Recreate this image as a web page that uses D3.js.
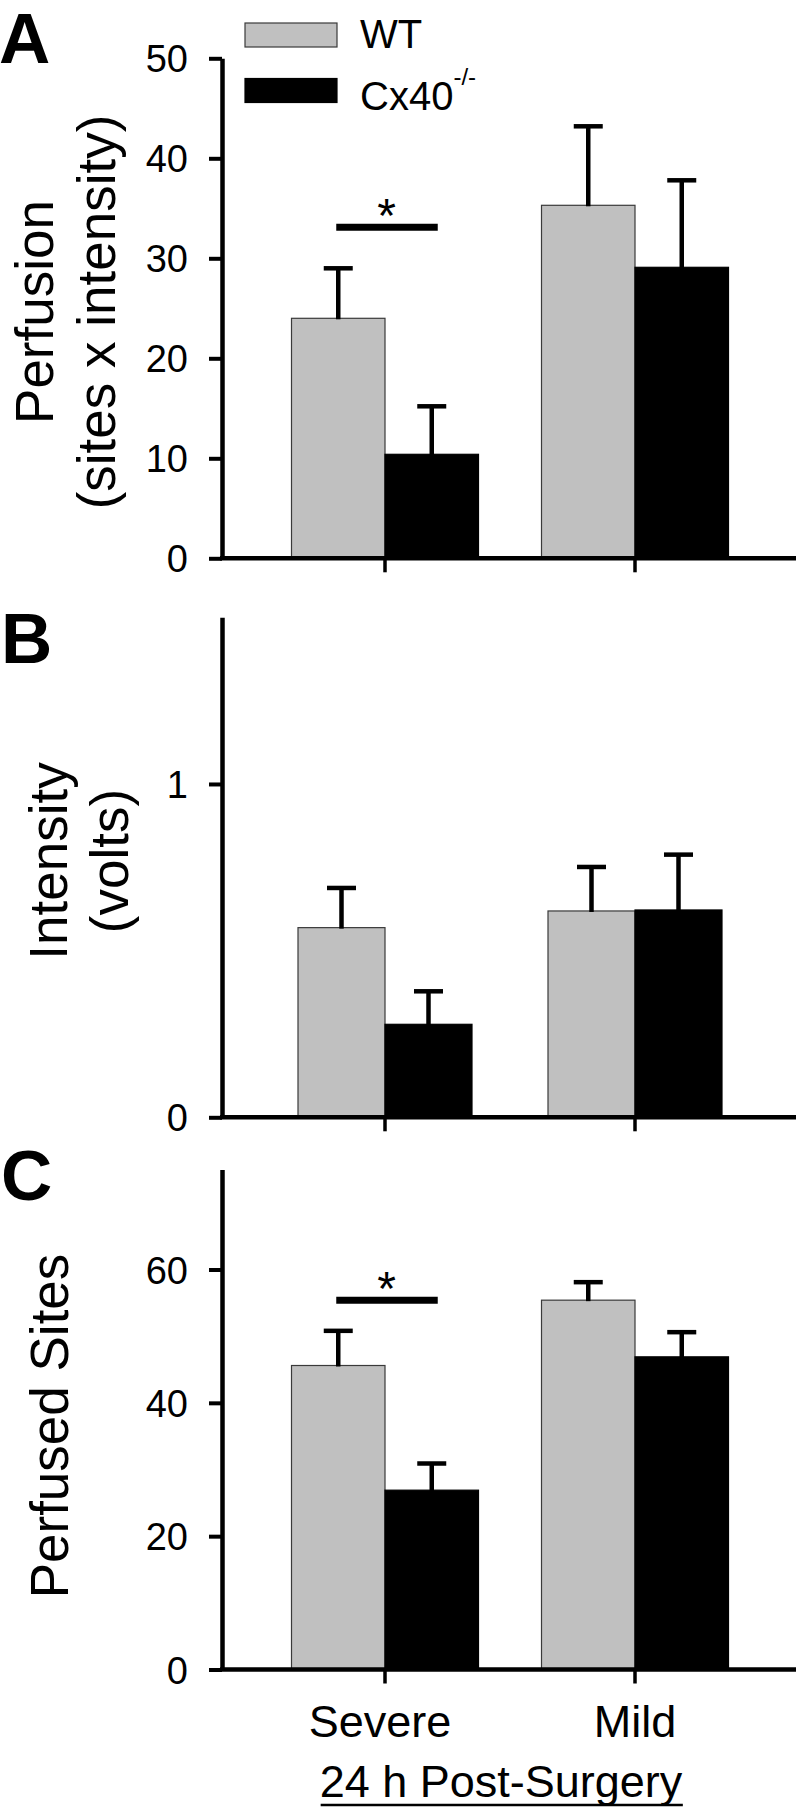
<!DOCTYPE html>
<html>
<head>
<meta charset="utf-8">
<script src="https://cdn.jsdelivr.net/npm/d3@7"></script>
<style>
  html, body { margin: 0; padding: 0; background: #fff; }
  svg { display: block; }
  text { font-family: "Liberation Sans", Arial, Helvetica, sans-serif; fill: #000; }
</style>
</head>
<body>
<svg id="chart" width="804" height="1812"></svg>
<script>
// ---------------- data ----------------
const categories = ["Severe", "Mild"];
const seriesNames = ["WT", "Cx40"];
const seriesColors = ["#c0c0c0", "#000000"];

// Panel A: Perfusion (sites x intensity)
const perfusionWT = [24.0, 35.3];
const perfusionWTErr = [5.0, 7.9];
const perfusionKO = [10.4, 29.1];
const perfusionKOErr = [4.8, 8.7];
const perfusionTicks = [0, 10, 20, 30, 40, 50];

// Panel B: Intensity (volts)
const intensityWT = [0.569, 0.619];
const intensityWTErr = [0.119, 0.132];
const intensityKO = [0.279, 0.622];
const intensityKOErr = [0.099, 0.166];
const intensityTicks = [0, 1];

// Panel C: Perfused Sites
const sitesWT = [45.6, 55.4];
const sitesWTErr = [5.2, 2.7];
const sitesKO = [26.9, 46.9];
const sitesKOErr = [4.0, 3.7];
const sitesTicks = [0, 20, 40, 60];

// significance markers: [category, value level]
const sigA = [{ cat: "Severe", level: 33.1 }];
const sigC = [{ cat: "Severe", level: 55.4 }];

// ---------------- layout ----------------
const svg = d3.select("#chart");
const axisX = 222;       // y-axis position
const axisRight = 796;   // end of baseline

const panels = [
  { letter: "A", letterY: 63, max: 50, top: 58.3, bottom: 558.3, ticks: perfusionTicks,
    wt: perfusionWT, wtErr: perfusionWTErr, ko: perfusionKO, koErr: perfusionKOErr,
    padInner: 0.252, titleLines: ["Perfusion", "(sites x intensity)"], titleX: [53, 115], titleY: 312,
    sig: sigA, showLabels: false },
  { letter: "B", letterY: 663, max: 1.5, top: 617.3, bottom: 1117.3, ticks: intensityTicks,
    wt: intensityWT, wtErr: intensityWTErr, ko: intensityKO, koErr: intensityKOErr,
    padInner: 0.304, titleLines: ["Intensity", "(volts)"], titleX: [67, 128], titleY: 861,
    sig: [], showLabels: false },
  { letter: "C", letterY: 1200, max: 75, top: 1169.5, bottom: 1669.5, ticks: sitesTicks,
    wt: sitesWT, wtErr: sitesWTErr, ko: sitesKO, koErr: sitesKOErr,
    padInner: 0.252, titleLines: ["Perfused Sites"], titleX: [68], titleY: 1426,
    sig: sigC, showLabels: true }
];

panels.forEach(p => {
  const g = svg.append("g");

  const y = d3.scaleLinear().domain([0, p.max]).range([p.bottom, p.top]);
  const x0 = d3.scaleBand().domain(categories).range([260, 760])
    .paddingInner(p.padInner).paddingOuter(p.padInner / 2);
  const x1 = d3.scaleBand().domain(seriesNames).range([0, x0.bandwidth()]);

  // bars
  const rows = categories.map((c, i) => ({
    cat: c,
    vals: [
      { s: "WT", v: p.wt[i], e: p.wtErr[i] },
      { s: "Cx40", v: p.ko[i], e: p.koErr[i] }
    ]
  }));
  const color = d3.scaleOrdinal().domain(seriesNames).range(seriesColors);

  const grp = g.selectAll("g.grp").data(rows).join("g")
    .attr("transform", d => `translate(${x0(d.cat)},0)`);

  grp.selectAll("rect").data(d => d.vals).join("rect")
    .attr("x", d => x1(d.s))
    .attr("y", d => y(d.v))
    .attr("width", x1.bandwidth())
    .attr("height", d => y(0) - y(d.v))
    .attr("fill", d => color(d.s))
    .attr("stroke", d => d.s === "WT" ? "#3a3a3a" : "#000")
    .attr("stroke-width", 1.2);

  // error bars (upper only)
  grp.selectAll("line.err").data(d => d.vals).join("line")
    .attr("class", "err")
    .attr("x1", d => x1(d.s) + x1.bandwidth() / 2)
    .attr("x2", d => x1(d.s) + x1.bandwidth() / 2)
    .attr("y1", d => y(d.v) + 1)
    .attr("y2", d => y(d.v + d.e))
    .attr("stroke", "#000").attr("stroke-width", 4.5);
  grp.selectAll("line.cap").data(d => d.vals).join("line")
    .attr("class", "cap")
    .attr("x1", d => x1(d.s) + x1.bandwidth() / 2 - 14.5)
    .attr("x2", d => x1(d.s) + x1.bandwidth() / 2 + 14.5)
    .attr("y1", d => y(d.v + d.e))
    .attr("y2", d => y(d.v + d.e))
    .attr("stroke", "#000").attr("stroke-width", 4.5);

  // significance bar + asterisk
  p.sig.forEach(s => {
    const xa = x0(s.cat) + x1("WT") + x1.bandwidth() / 2 - 2;
    const xb = x0(s.cat) + x1("Cx40") + x1.bandwidth() / 2 + 6;
    g.append("line")
      .attr("x1", xa).attr("x2", xb)
      .attr("y1", y(s.level)).attr("y2", y(s.level))
      .attr("stroke", "#000").attr("stroke-width", 7);
    g.append("text")
      .attr("x", (xa + xb) / 2 - 0.5)
      .attr("y", y(s.level) + 5)
      .attr("text-anchor", "middle")
      .attr("font-size", 48)
      .text("*");
  });

  // y axis
  const yAxis = d3.axisLeft(y).tickValues(p.ticks).tickSize(13).tickSizeOuter(0).tickPadding(21)
    .tickFormat(d3.format("d"));
  const ya = g.append("g").attr("transform", `translate(${axisX},0)`).call(yAxis);
  ya.select(".domain").attr("stroke", "#000").attr("stroke-width", 4.5);
  ya.selectAll(".tick line").attr("stroke", "#000").attr("stroke-width", 4);
  ya.selectAll(".tick text").attr("font-size", 38).attr("dy", "0.36em")
    .attr("font-family", "'Liberation Sans', Arial, sans-serif");

  // x axis
  const xAxis = d3.axisBottom(x0).tickSize(14).tickSizeOuter(0).tickPadding(22);
  const xa = g.append("g").attr("transform", `translate(0,${y(0)})`).call(xAxis);
  xa.select(".domain").remove();
  xa.selectAll(".tick line").attr("stroke", "#000").attr("stroke-width", 3.5);
  if (p.showLabels) {
    xa.selectAll(".tick text").attr("font-size", 45).attr("dy", "0.71em")
      .attr("font-family", "'Liberation Sans', Arial, sans-serif");
    xa.selectAll(".tick").filter(d => d === "Severe").select("text").attr("dx", -5);
  } else {
    xa.selectAll(".tick text").remove();
  }
  g.append("line")
    .attr("x1", axisX - 2).attr("x2", axisRight)
    .attr("y1", y(0)).attr("y2", y(0))
    .attr("stroke", "#000").attr("stroke-width", 4.5);

  // y title
  p.titleLines.forEach((t, i) => {
    g.append("text")
      .attr("transform", `translate(${p.titleX[i]},${p.titleY}) rotate(-90)`)
      .attr("text-anchor", "middle")
      .attr("font-size", 53)
      .text(t);
  });

  // panel letter
  svg.append("text")
    .attr("x", p.letter === "A" ? -1 : 1)
    .attr("y", p.letterY)
    .attr("font-size", 71)
    .attr("font-weight", "bold")
    .text(p.letter);
});

// legend
const legend = svg.append("g");
const legendItems = [
  { name: "WT", color: seriesColors[0], y: 23 },
  { name: "Cx40", color: seriesColors[1], y: 78.5 }
];
legend.selectAll("rect").data(legendItems).join("rect")
  .attr("x", 245).attr("y", d => d.y)
  .attr("width", 92).attr("height", 24)
  .attr("fill", d => d.color)
  .attr("stroke", d => d.name === "WT" ? "#3a3a3a" : "#000")
  .attr("stroke-width", 1.2);
legend.append("text").attr("x", 360).attr("y", 48).attr("font-size", 40).text("WT");
const koText = legend.append("text").attr("x", 360).attr("y", 110).attr("font-size", 40);
koText.append("tspan").text("Cx40");
koText.append("tspan").attr("dy", -25).attr("font-size", 24).text("-/-");

// bottom group title with underline
const xTitle = svg.append("text")
  .attr("x", 501).attr("y", 1797)
  .attr("text-anchor", "middle")
  .attr("font-size", 45)
  .text("24 h Post-Surgery");
const bb = xTitle.node().getBBox();
svg.append("line")
  .attr("x1", bb.x + 1).attr("x2", bb.x + bb.width)
  .attr("y1", 1805).attr("y2", 1805)
  .attr("stroke", "#000").attr("stroke-width", 2.5);
</script>
</body>
</html>
